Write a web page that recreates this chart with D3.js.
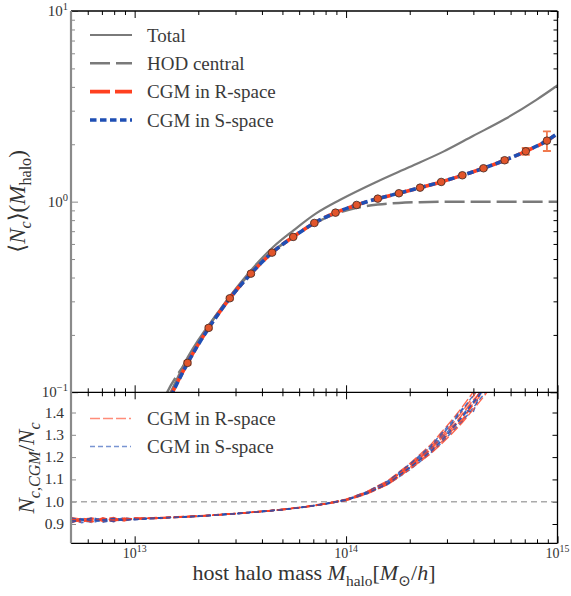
<!DOCTYPE html>
<html><head><meta charset="utf-8">
<script src="https://cdn.jsdelivr.net/npm/d3@7"></script>
<style>
body{margin:0;background:#fff}
svg{display:block}
</style>
</head><body>
<svg id="chart" width="571" height="596" font-family="'Liberation Serif', 'DejaVu Serif', serif"></svg>
<script>
// ---- data ----
// CGM measurement (R-space) binned in log10 halo mass
const pointLogM = [13.25,13.35,13.45,13.55,13.65,13.75,13.85,13.95,14.05,14.15,14.25,14.35,14.45,14.55,14.65,14.75,14.85,14.95];
const cgmPoints = [0.1426,0.2177,0.3113,0.4192,0.5401,0.6531,0.7730,0.8756,0.9609,1.0369,1.1066,1.1842,1.2687,1.3751,1.4965,1.6487,1.8371,2.0890];
const cgmErr    = [0.003,0.004,0.005,0.006,0.007,0.008,0.009,0.010,0.011,0.012,0.013,0.015,0.017,0.020,0.026,0.040,0.075,0.245];

// HOD model curves
const totalLogM = [13.10,13.17,13.25,13.40,13.50,13.655,13.75,13.86,13.97,14.146,14.30,14.46,14.60,14.754,14.90,15.00];
const totalVals = [0.070,0.100,0.152,0.268,0.375,0.578,0.705,0.870,1.020,1.273,1.520,1.830,2.210,2.720,3.420,4.070];
const centralLogM = [13.10,13.15,13.25,13.35,13.45,13.55,13.65,13.75,13.85,13.95,14.05,14.15,14.25,14.35,14.50,14.70,15.00];
const centralVals = [0.072,0.098,0.148,0.222,0.316,0.424,0.543,0.655,0.768,0.862,0.928,0.965,0.985,0.994,0.999,1.000,1.000];

// CGM occupation curves in real and redshift space
const cgmLineLogM = [13.15,13.25,13.35,13.45,13.55,13.65,13.75,13.85,13.95,14.05,14.15,14.25,14.35,14.45,14.55,14.65,14.75,14.85,14.95,15.00];
const cgmRLine = [0.086,0.1426,0.2177,0.3113,0.4192,0.5401,0.6531,0.7730,0.8756,0.9609,1.0369,1.1066,1.1842,1.2687,1.3751,1.4965,1.6487,1.8371,2.0890,2.2800];
const cgmSLine = [0.085,0.1420,0.2170,0.3108,0.4188,0.5398,0.6530,0.7728,0.8755,0.9610,1.0370,1.1068,1.1845,1.2690,1.3755,1.4970,1.6490,1.8380,2.0900,2.2800];

// ratio N_c,CGM / N_c for the individual sub-samples
const ratioLogM = [12.70,12.75,12.80,12.85,12.90,12.95,13.00,13.10,13.20,13.30,13.40,13.50,13.60,13.70,13.80,13.90,14.00,14.10,14.20,14.30,14.40,14.45,14.50,14.55,14.60,14.65,14.70,14.75];
const ratioR1 = [0.925,0.912,0.921,0.915,0.926,0.918,0.926,0.925,0.932,0.934,0.942,0.947,0.957,0.964,0.977,0.991,1.010,1.044,1.092,1.165,1.245,1.300,1.345,1.405,1.470,1.540,1.610,1.680];
const ratioR2 = [0.905,0.920,0.911,0.928,0.914,0.925,0.920,0.929,0.930,0.936,0.940,0.949,0.955,0.966,0.975,0.989,1.006,1.037,1.080,1.152,1.222,1.268,1.318,1.370,1.432,1.495,1.560,1.630];
const ratioR3 = [0.930,0.921,0.927,0.911,0.920,0.916,0.923,0.926,0.933,0.935,0.943,0.948,0.957,0.965,0.976,0.990,1.009,1.041,1.088,1.158,1.238,1.290,1.338,1.362,1.440,1.520,1.590,1.660];
const ratioR4 = [0.912,0.927,0.915,0.922,0.929,0.913,0.928,0.924,0.929,0.937,0.941,0.950,0.956,0.964,0.977,0.992,1.011,1.046,1.096,1.170,1.255,1.310,1.365,1.425,1.490,1.560,1.630,1.700];
const ratioR5 = [0.919,0.908,0.924,0.918,0.911,0.927,0.921,0.928,0.931,0.934,0.942,0.948,0.955,0.966,0.975,0.989,1.005,1.035,1.078,1.145,1.215,1.258,1.305,1.355,1.412,1.470,1.535,1.600];
const ratioR6 = [0.922,0.916,0.909,0.926,0.918,0.921,0.925,0.926,0.932,0.936,0.941,0.949,0.957,0.965,0.976,0.990,1.008,1.042,1.086,1.160,1.232,1.282,1.328,1.392,1.455,1.505,1.575,1.640];
const ratioS1 = [0.910,0.918,0.926,0.912,0.923,0.919,0.922,0.927,0.930,0.935,0.940,0.948,0.956,0.965,0.976,0.990,1.007,1.039,1.083,1.150,1.228,1.270,1.322,1.378,1.438,1.500,1.570,1.640];
const ratioS2 = [0.921,0.905,0.917,0.925,0.910,0.924,0.919,0.925,0.931,0.934,0.942,0.947,0.956,0.964,0.975,0.991,1.009,1.043,1.090,1.162,1.242,1.295,1.350,1.412,1.475,1.545,1.615,1.690];
const ratioS3 = [0.927,0.919,0.906,0.921,0.927,0.914,0.926,0.928,0.929,0.937,0.941,0.949,0.955,0.966,0.977,0.989,1.006,1.036,1.079,1.142,1.218,1.262,1.312,1.360,1.420,1.480,1.545,1.610];
const ratioS4 = [0.914,0.924,0.920,0.908,0.917,0.928,0.921,0.926,0.932,0.935,0.943,0.948,0.957,0.965,0.976,0.990,1.010,1.045,1.094,1.168,1.250,1.305,1.358,1.418,1.398,1.530,1.600,1.670];
const ratioS5 = [0.918,0.913,0.928,0.917,0.912,0.920,0.924,0.925,0.930,0.936,0.940,0.950,0.956,0.965,0.975,0.991,1.008,1.040,1.084,1.155,1.235,1.285,1.332,1.388,1.448,1.515,1.585,1.655];
const ratioS6 = [0.906,0.922,0.914,0.919,0.925,0.917,0.920,0.927,0.931,0.934,0.941,0.948,0.956,0.964,0.976,0.990,1.007,1.038,1.082,1.152,1.225,1.275,1.325,1.382,1.442,1.505,1.572,1.645];

// ticks and labels
const xMajorExp = [13,14,15];
const yTopMajorExp = [-1,0,1];
const ratioTicks = [0.9,1.0,1.1,1.2,1.3,1.4];
const ratioRef = 1.0;
const legendTop = ["Total","HOD central","CGM in R-space","CGM in S-space"];
const legendBottom = ["CGM in R-space","CGM in S-space"];

// ---- layout ----
const L = 71, R = 557.5, T = 11, M = 392.3, B = 543.3;
const RED = "#ff4020", BLUE = "#1f4fb4", GRAY = "#7a7a7a", SPINE_L = "#8a8a8a", TXT = "#333";

const svg = d3.select("#chart");
const x = d3.scaleLog().domain([5e12, 1e15]).range([L, R]);
const yTop = d3.scaleLog().domain([0.1, 10]).range([M, T]);
const yBot = d3.scaleLinear().domain([0.8135, 1.4906]).range([B, M]);

const defs = svg.append("defs");
defs.append("clipPath").attr("id","clipTop").append("rect").attr("x",L).attr("y",T).attr("width",R-L).attr("height",M-T);
defs.append("clipPath").attr("id","clipBot").append("rect").attr("x",L).attr("y",M).attr("width",R-L).attr("height",B-M);

const pow10 = v => Math.pow(10, v);
const xMinor = [];
[12,13,14].forEach(e => { for (let k=2;k<=9;k++){ const v=k*pow10(e); if (v>=5e12 && v<1e15) xMinor.push(v);} });
const yMinor = [];
[-1,0].forEach(e => { for (let k=2;k<=9;k++) yMinor.push(k*pow10(e)); });

function styleAxis(g, color, w){
  g.select(".domain").remove();
  g.selectAll("text").remove();
  g.selectAll("line").attr("stroke", color).attr("stroke-width", w);
}
// inward-pointing x ticks along a horizontal spine
function xTicks(y0, gen){
  const maj = xMajorExp.map(pow10);
  svg.append("g").attr("transform",`translate(0,${y0})`).call(gen(x).tickValues(maj).tickSize(-7)).call(g=>styleAxis(g,"#000",1));
  svg.append("g").attr("transform",`translate(0,${y0})`).call(gen(x).tickValues(xMinor).tickSize(-4)).call(g=>styleAxis(g,"#000",1));
}
xTicks(M, d3.axisBottom); xTicks(T, d3.axisTop);
xTicks(M, d3.axisTop); xTicks(B, d3.axisBottom);

// y ticks on both sides of each panel
[[R, d3.axisRight, "#000"], [L, d3.axisLeft, SPINE_L]].forEach(([x0, gen, c]) => {
  svg.append("g").attr("transform",`translate(${x0},0)`).call(gen(yTop).tickValues(yTopMajorExp.map(pow10)).tickSize(-7)).call(g=>styleAxis(g,c,1));
  svg.append("g").attr("transform",`translate(${x0},0)`).call(gen(yTop).tickValues(yMinor).tickSize(-4)).call(g=>styleAxis(g,c,1));
  svg.append("g").attr("transform",`translate(${x0},0)`).call(gen(yBot).tickValues(ratioTicks).tickSize(-5)).call(g=>styleAxis(g,c,1));
});

// ---- top panel ----
const gTop = svg.append("g").attr("clip-path","url(#clipTop)");
const lineTop = d3.line().x(d=>x(pow10(d[0]))).y(d=>yTop(d[1])).curve(d3.curveMonotoneX);
const zip = (a,b) => a.map((v,i)=>[v,b[i]]);

gTop.append("path").attr("d", lineTop(zip(centralLogM, centralVals)))
  .attr("fill","none").attr("stroke",GRAY).attr("stroke-width",2.5).attr("stroke-dasharray","20,6");
gTop.append("path").attr("d", lineTop(zip(totalLogM, totalVals)))
  .attr("fill","none").attr("stroke",GRAY).attr("stroke-width",2.2);
gTop.append("path").attr("d", lineTop(zip(cgmLineLogM, cgmRLine)))
  .attr("fill","none").attr("stroke",RED).attr("stroke-width",3.6).attr("stroke-dasharray","20,5");
gTop.append("path").attr("d", lineTop(zip(cgmLineLogM, cgmSLine)))
  .attr("fill","none").attr("stroke",BLUE).attr("stroke-width",3.6).attr("stroke-dasharray","6.5,3.5");

// error bars, then markers on top
const pts = pointLogM.map((m,i)=>({m, v:cgmPoints[i], e:cgmErr[i]}));
const eb = gTop.append("g").attr("stroke","#f07a4e").attr("stroke-width",1.8);
eb.selectAll("line.v").data(pts).join("line").attr("class","v")
  .attr("x1",d=>x(pow10(d.m))).attr("x2",d=>x(pow10(d.m)))
  .attr("y1",d=>yTop(d.v+d.e)).attr("y2",d=>yTop(d.v-d.e));
[1,-1].forEach(s=>{
  eb.selectAll("line.c"+(s>0?"p":"n")).data(pts).join("line").attr("class","c"+(s>0?"p":"n"))
    .attr("x1",d=>x(pow10(d.m))-4).attr("x2",d=>x(pow10(d.m))+4)
    .attr("y1",d=>yTop(d.v+s*d.e)).attr("y2",d=>yTop(d.v+s*d.e));
});
gTop.selectAll("circle").data(pts).join("circle")
  .attr("cx",d=>x(pow10(d.m))).attr("cy",d=>yTop(d.v)).attr("r",3.8)
  .attr("fill","#e2552b").attr("stroke","#3d2a24").attr("stroke-width",0.8);

// ---- bottom panel ----
const gBot = svg.append("g").attr("clip-path","url(#clipBot)");
gBot.append("line").attr("x1",L).attr("x2",R).attr("y1",yBot(ratioRef)).attr("y2",yBot(ratioRef))
  .attr("stroke","#aaa").attr("stroke-width",1.5).attr("stroke-dasharray","6,4");
const lineBot = d3.line().x(d=>x(pow10(d[0]))).y(d=>yBot(d[1]));
const seriesR = [ratioR1,ratioR2,ratioR3,ratioR4,ratioR5,ratioR6];
const seriesS = [ratioS1,ratioS2,ratioS3,ratioS4,ratioS5,ratioS6];
seriesR.forEach((s,i)=>{
  gBot.append("path").attr("d", lineBot(zip(ratioLogM, s))).attr("fill","none")
    .attr("stroke",RED).attr("stroke-opacity",0.8).attr("stroke-width",1.4).attr("stroke-dasharray","10,3");
  gBot.append("path").attr("d", lineBot(zip(ratioLogM, seriesS[i]))).attr("fill","none")
    .attr("stroke",BLUE).attr("stroke-opacity",0.8).attr("stroke-width",1.4).attr("stroke-dasharray","5,3");
});

// ---- spines ----
const sp = svg.append("g");
[[L,T,R,T],[R,T,R,B],[L,M,R,M],[L,B,R,B]].forEach(c=>sp.append("line")
  .attr("x1",c[0]).attr("y1",c[1]).attr("x2",c[2]).attr("y2",c[3]).attr("stroke","#000").attr("stroke-width",1.3));
sp.append("line").attr("x1",L).attr("y1",T).attr("x2",L).attr("y2",B).attr("stroke",SPINE_L).attr("stroke-width",2.2);

// ---- tick labels ----
function powLabel(g, xx, yy, exp, anchor, size){
  const t = g.append("text").attr("x",xx).attr("y",yy).attr("text-anchor",anchor)
    .attr("fill",TXT).attr("font-size",size);
  t.append("tspan").text("10");
  t.append("tspan").attr("dy",-6).attr("font-size",size*0.7).text(String(exp).replace("-","\u2212"));
}
const lab = svg.append("g");
xMajorExp.forEach(e => powLabel(lab, x(pow10(e)), 558, e, "middle", 14));
yTopMajorExp.forEach(e => powLabel(lab, 68, yTop(pow10(e))+5, e, "end", 15));
ratioTicks.forEach(v => lab.append("text").attr("x",64).attr("y",yBot(v)+5).attr("text-anchor","end")
  .attr("fill",TXT).attr("font-size",15.5).text(v.toFixed(1)));

// ---- axis titles ----
// parts: [text, italic, subscript]; subscript offsets are tracked so each run sits on the right baseline
function mathText(t, parts, size){
  let cur = 0;
  parts.forEach(([str, it, sub]) => {
    const want = sub ? size*0.28 : 0;
    const ts = t.append("tspan").text(str);
    if (want !== cur) ts.attr("dy", want - cur);
    if (sub) ts.attr("font-size", size*0.7);
    if (it) ts.attr("font-style","italic");
    cur = want;
  });
}
{
  const s = 22;
  const t = svg.append("text").attr("x",314).attr("y",580).attr("text-anchor","middle").attr("font-size",s).attr("fill",TXT);
  mathText(t, [["host halo mass ",0,0],["M",1,0],["halo",0,1],["[",0,0],["M",1,0],["\u2299",0,1],["/",0,0],["h",1,0],["]",0,0]], s);
}
{
  const s = 23;
  const t = svg.append("text").attr("transform","translate(16.5,201.5) rotate(-90)").attr("dy","0.35em")
    .attr("text-anchor","middle").attr("font-size",s).attr("fill",TXT);
  mathText(t, [["\u27E8",0,0],["N",1,0],["c",1,1],["\u27E9(",0,0],["M",1,0],["halo",0,1],[")",0,0]], s);
}
{
  const s = 23;
  const t = svg.append("text").attr("transform","translate(26,468) rotate(-90)").attr("dy","0.35em")
    .attr("text-anchor","middle").attr("font-size",s).attr("fill",TXT);
  mathText(t, [["N",1,0],["c,CGM",1,1],["/",0,0],["N",1,0],["c",1,1]], s);
}

// ---- legends ----
const legTop = svg.append("g");
const legStyles = [
  {c:GRAY, w:2.2, d:null},
  {c:GRAY, w:2.5, d:"20,6"},
  {c:RED,  w:3.6, d:"20,5"},
  {c:BLUE, w:3.6, d:"6.5,3.5"}
];
const legRowY = d3.scalePoint().domain(legendTop).range([35, 120]);
legendTop.forEach((name,i)=>{
  const yy = legRowY(name), st = legStyles[i];
  const ln = legTop.append("line").attr("x1",90).attr("x2",132).attr("y1",yy).attr("y2",yy)
    .attr("stroke",st.c).attr("stroke-width",st.w);
  if (st.d) ln.attr("stroke-dasharray",st.d);
  legTop.append("text").attr("x",147).attr("y",yy+6.5).attr("font-size",19).attr("fill","#3a3a3a").text(name);
});
const legBot = svg.append("g");
const legBotY = d3.scalePoint().domain(legendBottom).range([418.5, 446.5]);
legendBottom.forEach((name,i)=>{
  const yy = legBotY(name);
  legBot.append("line").attr("x1",90).attr("x2",131).attr("y1",yy).attr("y2",yy)
    .attr("stroke", i===0?RED:BLUE).attr("stroke-opacity",0.6).attr("stroke-width",1.3)
    .attr("stroke-dasharray", i===0?"10,3":"5,3");
  legBot.append("text").attr("x",147).attr("y",yy+6.5).attr("font-size",19).attr("fill","#3a3a3a").text(name);
});
</script>
</body></html>
